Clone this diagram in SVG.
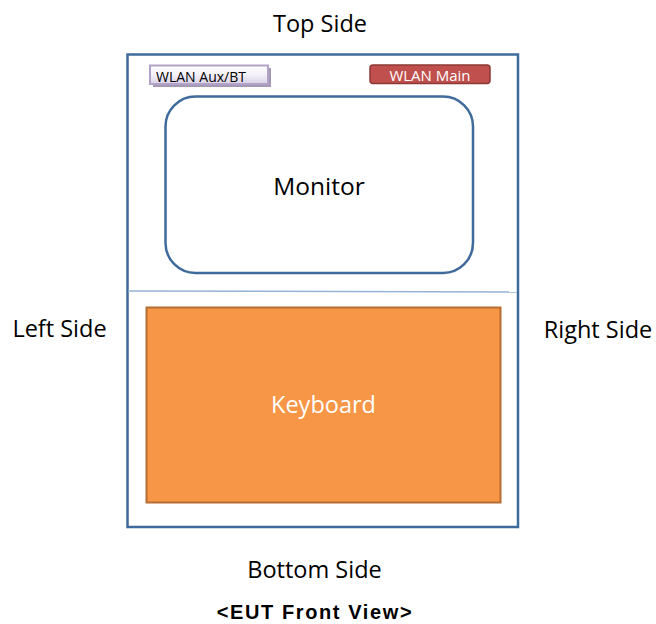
<svg xmlns="http://www.w3.org/2000/svg" width="656" height="624" viewBox="0 0 656 624">
<style>
.lbl{font-family:"Open Sans","Liberation Sans",sans-serif;fill:#000;text-anchor:middle}
.side{font-size:23.5px}
.frame{fill:#fff;stroke:#3f6a9c;stroke-width:2.5}
</style>
<defs>
<linearGradient id="lav" x1="0" y1="0" x2="0" y2="1">
<stop offset="0" stop-color="#ffffff"/>
<stop offset="0.5" stop-color="#f4f1f8"/>
<stop offset="1" stop-color="#d9d0e6"/>
</linearGradient>
</defs>
<rect width="656" height="624" fill="#fff"/>
<g id="eut-frame">
<rect class="frame" x="127.5" y="54.5" width="390.5" height="472.5"/>
<line x1="128" y1="291" x2="517" y2="292" stroke="#95b3d7" stroke-width="1.5"/>
</g>
<g id="wlan-aux">
<rect x="153" y="68" width="118" height="19" fill="#a598b5"/>
<rect x="150" y="65.5" width="118" height="18.5" fill="url(#lav)" stroke="#b3a2c7" stroke-width="2"/>
<text class="lbl" x="201" y="82" style="font-size:14px">WLAN Aux/BT</text>
</g>
<g id="wlan-main">
<rect x="370" y="65" width="120" height="18.5" rx="3" fill="#c0504d" stroke="#8c3836" stroke-width="1.5"/>
<text class="lbl" x="430" y="81" style="font-size:15px;fill:#fff">WLAN Main</text>
</g>
<g id="monitor">
<rect x="165.5" y="96.5" width="307.5" height="176.5" rx="30" fill="#fff" stroke="#3f6a9c" stroke-width="2.5"/>
<text class="lbl" x="319" y="195" style="font-size:24.5px">Monitor</text>
</g>
<g id="keyboard">
<rect x="146.5" y="307.5" width="354" height="195" fill="#f79646" stroke="#b66d31" stroke-width="2"/>
<text class="lbl" x="323.5" y="413" style="font-size:23.5px;fill:#fff">Keyboard</text>
</g>
<g id="labels">
<text class="lbl side" x="320" y="32">Top Side</text>
<text class="lbl side" x="59.5" y="337">Left Side</text>
<text class="lbl side" x="598" y="338">Right Side</text>
<text class="lbl side" x="314.5" y="578">Bottom Side</text>
<text x="315" y="619" style="font-family:'Liberation Sans',Arial,sans-serif;font-weight:bold;font-size:20px;text-anchor:middle" letter-spacing="1.6">&lt;EUT Front View&gt;</text>
</g>
</svg>
